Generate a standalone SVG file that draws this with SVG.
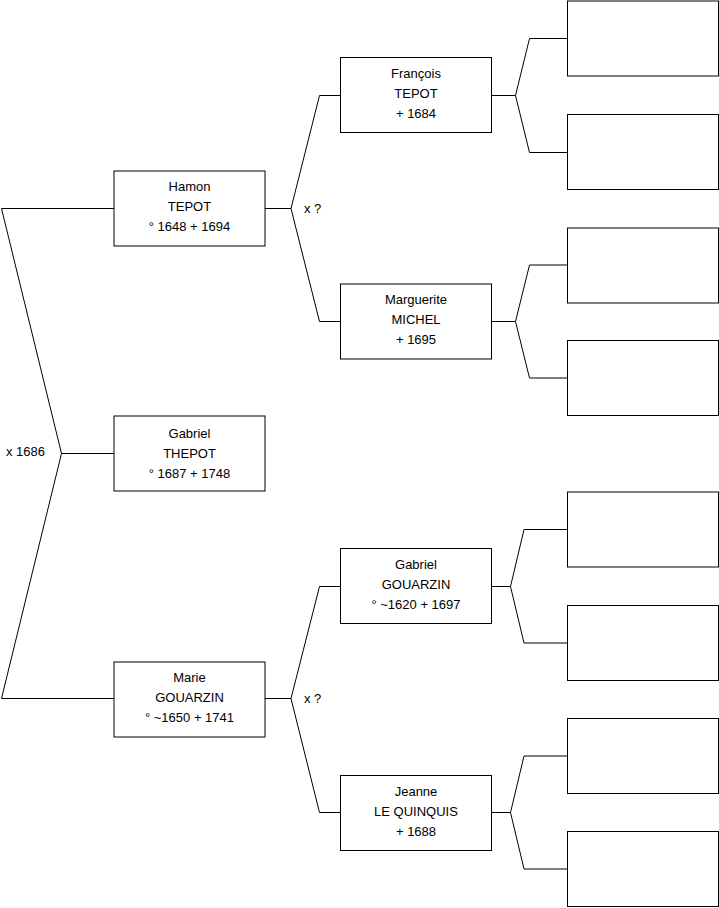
<svg xmlns="http://www.w3.org/2000/svg" width="719" height="908" viewBox="0 0 719 908">
<style>
.box{fill:#fff;stroke:#000;stroke-width:1}
.ln{fill:none;stroke:#000;stroke-width:1}
text{font-family:"Liberation Sans",Arial,sans-serif;font-size:13px;fill:#000}
.c{text-anchor:middle}
</style>
<rect width="719" height="908" fill="#fff"/>
<g id="connectors">
<polyline class="ln" points="114,208.5 1.5,208.5 61.5,453.5 1.5,698.5 114,698.5"/>
<line class="ln" x1="61.5" y1="453.5" x2="114" y2="453.5"/>
<polyline class="ln" points="265,208.5 291,208.5"/>
<polyline class="ln" points="340,95.5 319.5,95.5 291,208.5 319.5,321.5 340,321.5"/>
<polyline class="ln" points="265,698.5 291,698.5"/>
<polyline class="ln" points="340,586.5 319.5,586.5 291,698.5 319.5,812.5 340,812.5"/>
<polyline class="ln" points="491,95.5 515.5,95.5"/>
<polyline class="ln" points="567,38.5 529.5,38.5 515.5,95.5 529.5,152.5 567,152.5"/>
<polyline class="ln" points="491,321.5 515.5,321.5"/>
<polyline class="ln" points="567,265 529.5,265 515.5,321.5 529.5,378 567,378"/>
<polyline class="ln" points="491,586.5 510.5,586.5"/>
<polyline class="ln" points="567,529.5 524,529.5 510.5,586.5 524,643 567,643"/>
<polyline class="ln" points="491,812.5 510.5,812.5"/>
<polyline class="ln" points="567,756 524,756 510.5,812.5 524,869 567,869"/>
<text x="6" y="456">x 1686</text>
<text x="304" y="213">x ?</text>
<text x="304" y="703">x ?</text>
</g>
<g id="hamon">
<rect class="box" x="114" y="171" width="151" height="75"/>
<text class="c" x="189.5" y="191">Hamon</text>
<text class="c" x="189.5" y="211">TEPOT</text>
<text class="c" x="189.5" y="231">° 1648 + 1694</text>
</g>
<g id="gabriel">
<rect class="box" x="114" y="416" width="151" height="75"/>
<text class="c" x="189.5" y="438">Gabriel</text>
<text class="c" x="189.5" y="458">THEPOT</text>
<text class="c" x="189.5" y="478">° 1687 + 1748</text>
</g>
<g id="marie">
<rect class="box" x="114" y="662" width="151" height="75"/>
<text class="c" x="189.5" y="682">Marie</text>
<text class="c" x="189.5" y="702">GOUARZIN</text>
<text class="c" x="189.5" y="722">° ~1650 + 1741</text>
</g>
<g id="francois">
<rect class="box" x="340.5" y="57.5" width="151" height="75"/>
<text class="c" x="416" y="78">François</text>
<text class="c" x="416" y="98">TEPOT</text>
<text class="c" x="416" y="118"> + 1684</text>
</g>
<g id="marguerite">
<rect class="box" x="340.5" y="284" width="151" height="75"/>
<text class="c" x="416" y="304">Marguerite</text>
<text class="c" x="416" y="324">MICHEL</text>
<text class="c" x="416" y="344"> + 1695</text>
</g>
<g id="gabriel-gouarzin">
<rect class="box" x="340.5" y="548.5" width="151" height="75"/>
<text class="c" x="416" y="569">Gabriel</text>
<text class="c" x="416" y="589">GOUARZIN</text>
<text class="c" x="416" y="609">° ~1620 + 1697</text>
</g>
<g id="jeanne">
<rect class="box" x="340.5" y="775.5" width="151" height="75"/>
<text class="c" x="416" y="796">Jeanne</text>
<text class="c" x="416" y="816">LE QUINQUIS</text>
<text class="c" x="416" y="836"> + 1688</text>
</g>
<g id="empty1"><rect class="box" x="567.5" y="1" width="151" height="75"/></g>
<g id="empty2"><rect class="box" x="567.5" y="114.5" width="151" height="75"/></g>
<g id="empty3"><rect class="box" x="567.5" y="228" width="151" height="75"/></g>
<g id="empty4"><rect class="box" x="567.5" y="340.5" width="151" height="75"/></g>
<g id="empty5"><rect class="box" x="567.5" y="492" width="151" height="75"/></g>
<g id="empty6"><rect class="box" x="567.5" y="605.5" width="151" height="75"/></g>
<g id="empty7"><rect class="box" x="567.5" y="718.5" width="151" height="75"/></g>
<g id="empty8"><rect class="box" x="567.5" y="831.5" width="151" height="75"/></g>
</svg>
